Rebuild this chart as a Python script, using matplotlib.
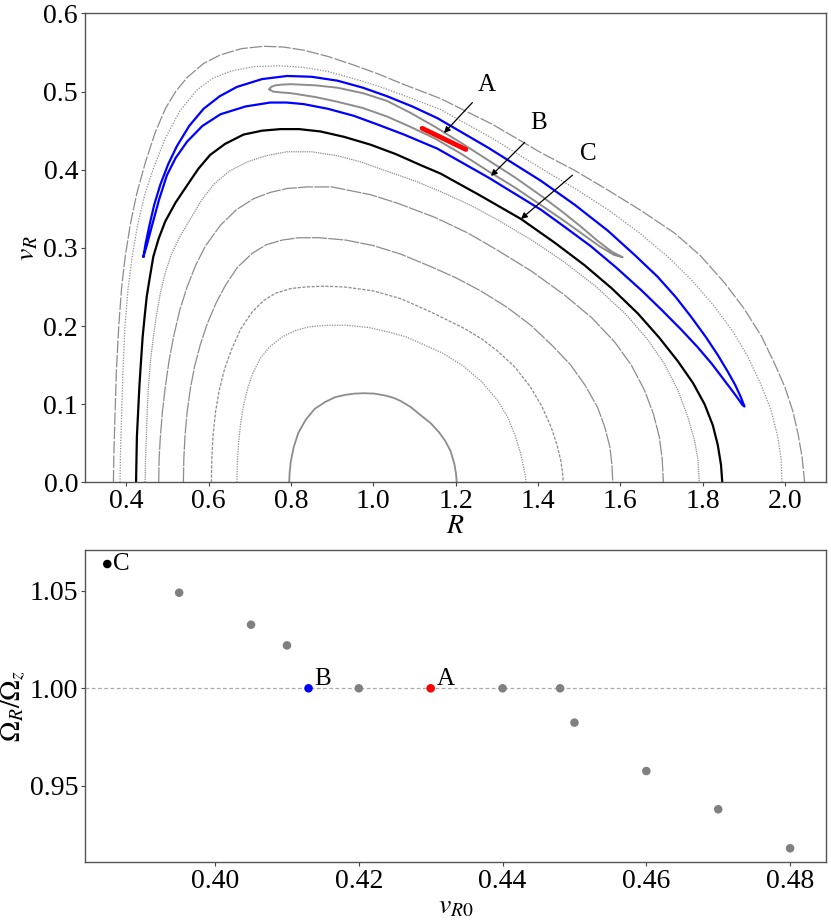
import matplotlib
matplotlib.use("Agg")
import matplotlib.pyplot as plt

plt.rcParams['font.family'] = ['Liberation Serif', 'DejaVu Serif']
plt.rcParams['mathtext.fontset'] = 'stix'

# --- surface of section curves (R, v_R) ---
c1_R = [0.796, 0.797, 0.800, 0.807, 0.818, 0.836, 0.858, 0.884, 0.908, 0.933, 0.955, 0.977, 1.003, 1.030, 1.050,
        1.067, 1.092, 1.115, 1.140, 1.160, 1.175, 1.188, 1.197, 1.201, 1.203]
c1_v = [0.000, 0.012, 0.027, 0.045, 0.063, 0.080, 0.094, 0.103, 0.109, 0.112, 0.1135, 0.114, 0.1135, 0.111, 0.108,
        0.104, 0.096, 0.086, 0.0755, 0.064, 0.053, 0.040, 0.024, 0.012, 0.000]

c2_R = [0.669, 0.670, 0.673, 0.678, 0.685, 0.695, 0.708, 0.725, 0.748, 0.779, 0.810, 0.844, 0.890, 0.933, 0.990,
        1.040, 1.080, 1.115, 1.170, 1.221, 1.265, 1.302, 1.328, 1.346, 1.358, 1.366, 1.370, 1.371]
c2_v = [0.000, 0.025, 0.050, 0.075, 0.098, 0.120, 0.140, 0.158, 0.173, 0.186, 0.194, 0.199, 0.201, 0.201, 0.198,
        0.192, 0.186, 0.178, 0.165, 0.148, 0.128, 0.105, 0.082, 0.058, 0.037, 0.018, 0.007, 0.000]

c3_R = [0.607, 0.608, 0.611, 0.617, 0.626, 0.639, 0.656, 0.678, 0.706, 0.735, 0.763, 0.800, 0.836, 0.880, 0.930,
        1.000, 1.067, 1.140, 1.221, 1.265, 1.302, 1.345, 1.382, 1.410, 1.432, 1.447, 1.456, 1.460, 1.462]
c3_v = [0.000, 0.030, 0.060, 0.090, 0.118, 0.145, 0.170, 0.196, 0.218, 0.233, 0.242, 0.248, 0.250, 0.251, 0.250,
        0.245, 0.235, 0.218, 0.197, 0.183, 0.168, 0.147, 0.122, 0.097, 0.071, 0.047, 0.027, 0.012, 0.000]

c4_R = [0.539, 0.540, 0.543, 0.548, 0.556, 0.566, 0.580, 0.597, 0.618, 0.641, 0.670, 0.706, 0.740, 0.779, 0.820,
        0.868, 0.933, 1.000, 1.067, 1.140, 1.200, 1.261, 1.325, 1.383, 1.435, 1.480, 1.515, 1.545, 1.563, 1.575,
        1.580, 1.582]
c4_v = [0.000, 0.030, 0.060, 0.090, 0.120, 0.148, 0.176, 0.203, 0.229, 0.252, 0.275, 0.293, 0.304, 0.310, 0.313,
        0.313, 0.310, 0.303, 0.292, 0.276, 0.262, 0.245, 0.224, 0.201, 0.175, 0.150, 0.124, 0.096, 0.070, 0.045,
        0.022, 0.000]

c5_R = [0.479, 0.480, 0.483, 0.488, 0.495, 0.504, 0.515, 0.530, 0.548, 0.569, 0.592, 0.629, 0.668, 0.710, 0.750,
        0.791, 0.840, 0.900, 0.994, 1.060, 1.150, 1.230, 1.302, 1.385, 1.464, 1.530, 1.586, 1.627, 1.659, 1.681,
        1.695, 1.702, 1.705]
c5_v = [0.000, 0.030, 0.058, 0.090, 0.122, 0.155, 0.186, 0.220, 0.250, 0.278, 0.302, 0.329, 0.349, 0.363, 0.371,
        0.376, 0.378, 0.378, 0.368, 0.357, 0.339, 0.319, 0.297, 0.270, 0.240, 0.211, 0.180, 0.150, 0.118, 0.087,
        0.058, 0.030, 0.000]

c6_R = [0.446, 0.447, 0.449, 0.451, 0.454, 0.459, 0.466, 0.474, 0.483, 0.495, 0.510, 0.530, 0.556, 0.582, 0.612,
        0.650, 0.694, 0.740, 0.791, 0.850, 0.913, 0.970, 1.034, 1.100, 1.164, 1.235, 1.302, 1.385, 1.464, 1.540,
        1.610, 1.665, 1.707, 1.740, 1.764, 1.780, 1.789, 1.792]
c6_v = [0.000, 0.030, 0.058, 0.090, 0.122, 0.155, 0.186, 0.215, 0.242, 0.268, 0.292, 0.314, 0.337, 0.360, 0.381,
        0.398, 0.410, 0.418, 0.423, 0.423, 0.418, 0.410, 0.398, 0.386, 0.372, 0.355, 0.336, 0.310, 0.282, 0.251,
        0.217, 0.184, 0.152, 0.118, 0.084, 0.055, 0.029, 0.000]

outer2_R = [0.385, 0.386, 0.388, 0.390, 0.392, 0.397, 0.405, 0.415, 0.428, 0.446, 0.469, 0.495, 0.530, 0.572, 0.610,
            0.653, 0.710, 0.775, 0.830, 0.888, 0.950, 1.018, 1.090, 1.164, 1.290, 1.407, 1.490, 1.570, 1.645, 1.715,
            1.775, 1.829, 1.875, 1.910, 1.942, 1.966, 1.982, 1.991, 1.993]
outer2_v = [0.000, 0.035, 0.070, 0.105, 0.140, 0.200, 0.250, 0.290, 0.330, 0.370, 0.406, 0.440, 0.475, 0.502, 0.517,
            0.526, 0.532, 0.533, 0.531, 0.526, 0.517, 0.506, 0.492, 0.477, 0.440, 0.402, 0.376, 0.349, 0.320, 0.289,
            0.258, 0.225, 0.192, 0.161, 0.125, 0.093, 0.060, 0.030, 0.000]

outer1_R = [0.369, 0.370, 0.372, 0.374, 0.376, 0.382, 0.389, 0.398, 0.410, 0.426, 0.447, 0.470, 0.495, 0.520, 0.548,
            0.588, 0.629, 0.680, 0.734, 0.783, 0.831, 0.890, 0.953, 1.015, 1.075, 1.164, 1.290, 1.407, 1.490, 1.570,
            1.650, 1.732, 1.795, 1.854, 1.900, 1.943, 1.975, 2.000, 2.020, 2.032, 2.042, 2.048]
outer1_v = [0.000, 0.035, 0.070, 0.105, 0.140, 0.200, 0.250, 0.290, 0.330, 0.370, 0.410, 0.447, 0.478, 0.500, 0.518,
            0.536, 0.547, 0.555, 0.558, 0.557, 0.553, 0.545, 0.534, 0.522, 0.509, 0.491, 0.458, 0.422, 0.399, 0.374,
            0.348, 0.319, 0.290, 0.255, 0.223, 0.187, 0.152, 0.122, 0.090, 0.062, 0.032, 0.000]

# orbit C (black)
black_R = [0.424, 0.425, 0.426, 0.429, 0.432, 0.436, 0.440, 0.445, 0.450, 0.458, 0.466, 0.479, 0.495, 0.520, 0.548,
           0.575, 0.604, 0.640, 0.685, 0.730, 0.775, 0.820, 0.872, 0.930, 0.994, 1.055, 1.115, 1.164, 1.260, 1.359,
           1.440, 1.513, 1.580, 1.643, 1.695, 1.740, 1.777, 1.805, 1.825, 1.837, 1.845, 1.848]
black_v = [0.000, 0.030, 0.058, 0.090, 0.122, 0.155, 0.186, 0.213, 0.238, 0.264, 0.289, 0.312, 0.334, 0.358, 0.380,
           0.401, 0.419, 0.433, 0.445, 0.450, 0.452, 0.452, 0.449, 0.442, 0.432, 0.420, 0.406, 0.395, 0.367, 0.337,
           0.307, 0.278, 0.248, 0.216, 0.185, 0.155, 0.127, 0.100, 0.073, 0.048, 0.022, 0.000]

# orbit B (blue banana), upper branch then lower branch back to the tip
blue_R = [0.442, 0.447, 0.457, 0.468, 0.483, 0.502, 0.523, 0.553, 0.588, 0.627, 0.669, 0.730, 0.791, 0.850, 0.913,
          0.975, 1.034, 1.095, 1.156, 1.280, 1.407, 1.490, 1.570, 1.635, 1.691, 1.735, 1.772, 1.808, 1.837, 1.862,
          1.880, 1.893, 1.902,
          1.897, 1.885, 1.871, 1.848, 1.822, 1.788, 1.749, 1.700, 1.651, 1.590, 1.529, 1.470, 1.407, 1.280, 1.156,
          1.075, 1.010, 0.953, 0.890, 0.831, 0.790, 0.750, 0.690, 0.629, 0.585, 0.548, 0.520, 0.499, 0.480, 0.463,
          0.450, 0.442]
blue_v = [0.289, 0.305, 0.330, 0.355, 0.381, 0.407, 0.430, 0.456, 0.478, 0.494, 0.506, 0.516, 0.520, 0.519, 0.514,
          0.505, 0.494, 0.481, 0.466, 0.428, 0.386, 0.355, 0.322, 0.291, 0.263, 0.237, 0.212, 0.186, 0.163, 0.141,
          0.124, 0.109, 0.097,
          0.099, 0.108, 0.118, 0.134, 0.152, 0.173, 0.195, 0.221, 0.246, 0.275, 0.302, 0.325, 0.349, 0.390, 0.427,
          0.445, 0.458, 0.469, 0.478, 0.484, 0.486, 0.486, 0.481, 0.471, 0.456, 0.436, 0.415, 0.393, 0.362, 0.329,
          0.303, 0.289]

# gray island inside the banana
island_R = [0.748, 0.752, 0.762, 0.780, 0.800, 0.860, 0.913, 0.975, 1.034, 1.090, 1.150, 1.215, 1.280, 1.345, 1.407,
            1.460, 1.505, 1.545, 1.580, 1.606,
            1.585, 1.550, 1.505, 1.460, 1.407, 1.345, 1.280, 1.215, 1.150, 1.090, 1.034, 0.975, 0.913, 0.860, 0.800,
            0.775, 0.757, 0.748]
island_v = [0.503, 0.506, 0.508, 0.509, 0.5095, 0.508, 0.505, 0.498, 0.488, 0.473, 0.455, 0.434, 0.412, 0.390, 0.367,
            0.346, 0.327, 0.309, 0.295, 0.288,
            0.291, 0.302, 0.319, 0.336, 0.355, 0.377, 0.398, 0.420, 0.440, 0.455, 0.468, 0.479, 0.487, 0.493, 0.498,
            0.499, 0.500, 0.503]

# orbit A (red)
red_R = [1.119, 1.225]
red_v = [0.453, 0.426]

# --- frequency ratio vs initial v_R ---
vR0 = [0.385, 0.395, 0.405, 0.410, 0.413, 0.420, 0.430, 0.440, 0.448, 0.450, 0.460, 0.470, 0.480]
ratio = [1.0637, 1.049, 1.0326, 1.022, 1.000, 1.000, 1.000, 1.000, 1.000, 0.9824, 0.9576, 0.938, 0.918]
pt_colors = ['black', 'gray', 'gray', 'gray', 'blue', 'gray', 'red', 'gray', 'gray', 'gray', 'gray', 'gray', 'gray']
pt_labels = {0: 'C', 4: 'B', 6: 'A'}

gcol = '#8c8c8c'

fig = plt.figure(figsize=(8.31, 9.22), dpi=100)
ax1 = fig.add_axes([0.1023, 0.4769, 0.8917, 0.5085])
ax2 = fig.add_axes([0.1023, 0.0647, 0.8917, 0.3388])

ax1.plot(c1_R, c1_v, color=gcol, lw=1.3)
ax1.plot(c2_R, c2_v, color=gcol, lw=0.9, ls=(0, (1, 1)))
ax1.plot(c3_R, c3_v, color=gcol, lw=0.9, ls=(0, (2.5, 1.2)))
ax1.plot(c4_R, c4_v, color=gcol, lw=0.9, ls=(0, (12, 1)))
ax1.plot(c5_R, c5_v, color=gcol, lw=0.9, ls=(0, (12, 1)))
ax1.plot(c6_R, c6_v, color=gcol, lw=0.9, ls=(0, (1, 0.8)))
ax1.plot(outer2_R, outer2_v, color=gcol, lw=0.9, ls=(0, (1, 1.2)))
ax1.plot(outer1_R, outer1_v, color=gcol, lw=0.9, ls=(0, (10, 1.5)))
ax1.plot(island_R, island_v, color=gcol, lw=1.4)
ax1.plot(black_R, black_v, color='black', lw=1.6)
ax1.plot(blue_R, blue_v, color='blue', lw=1.6)
ax1.plot(red_R, red_v, color='red', lw=3.5, solid_capstyle='round')

# arrows pointing at the orbits: label, tail, head, text position
arrows = [('A', (1.241, 0.486), (1.172, 0.447), (1.276, 0.508)),
          ('B', (1.368, 0.435), (1.286, 0.392), (1.403, 0.460)),
          ('C', (1.484, 0.393), (1.359, 0.337), (1.522, 0.420))]
for lab, start, end, tpos in arrows:
    ax1.annotate('', xy=end, xytext=start,
                 arrowprops=dict(arrowstyle='-|>', color='black', lw=0.9, mutation_scale=9,
                                 shrinkA=0, shrinkB=0))
    ax1.text(tpos[0], tpos[1], lab, fontsize=18, ha='center', va='center')

ax1.set_xlim(0.3, 2.1)
ax1.set_ylim(0.0, 0.6)
ax1.set_xticks([0.4, 0.6, 0.8, 1.0, 1.2, 1.4, 1.6, 1.8, 2.0])
ax1.set_yticks([0.0, 0.1, 0.2, 0.3, 0.4, 0.5, 0.6])
ax1.set_xlabel('$R$', fontsize=20, labelpad=0)
ax1.set_ylabel('$v_R$', fontsize=20, labelpad=2)

ax2.axhline(1.0, color='#aaaaaa', lw=0.9, ls=(0, (3, 2)), zorder=1)
ax2.scatter(vR0, ratio, c=pt_colors, s=38, zorder=3, edgecolors='none')
for i, lab in pt_labels.items():
    dy = 0 if lab == 'C' else 7
    ax2.annotate(lab, (vR0[i], ratio[i]), xytext=(4, dy), textcoords='offset points',
                 fontsize=18, ha='left', va='center')
ax2.set_xlim(0.3819, 0.4850)
ax2.set_ylim(0.9108, 1.0709)
ax2.set_xticks([0.40, 0.42, 0.44, 0.46, 0.48])
ax2.set_yticks([0.95, 1.00, 1.05])
ax2.set_xlabel('$v_{R0}$', fontsize=20, labelpad=0)
ax2.set_ylabel(r'$\Omega_R/\Omega_z$', fontsize=20, labelpad=2)

for ax in (ax1, ax2):
    ax.tick_params(labelsize=20, length=3, width=0.8, pad=2, color='#444444')
    for sp in ax.spines.values():
        sp.set_color('#555555')
        sp.set_linewidth(1.0)

fig.savefig('out.png', dpi=100)
